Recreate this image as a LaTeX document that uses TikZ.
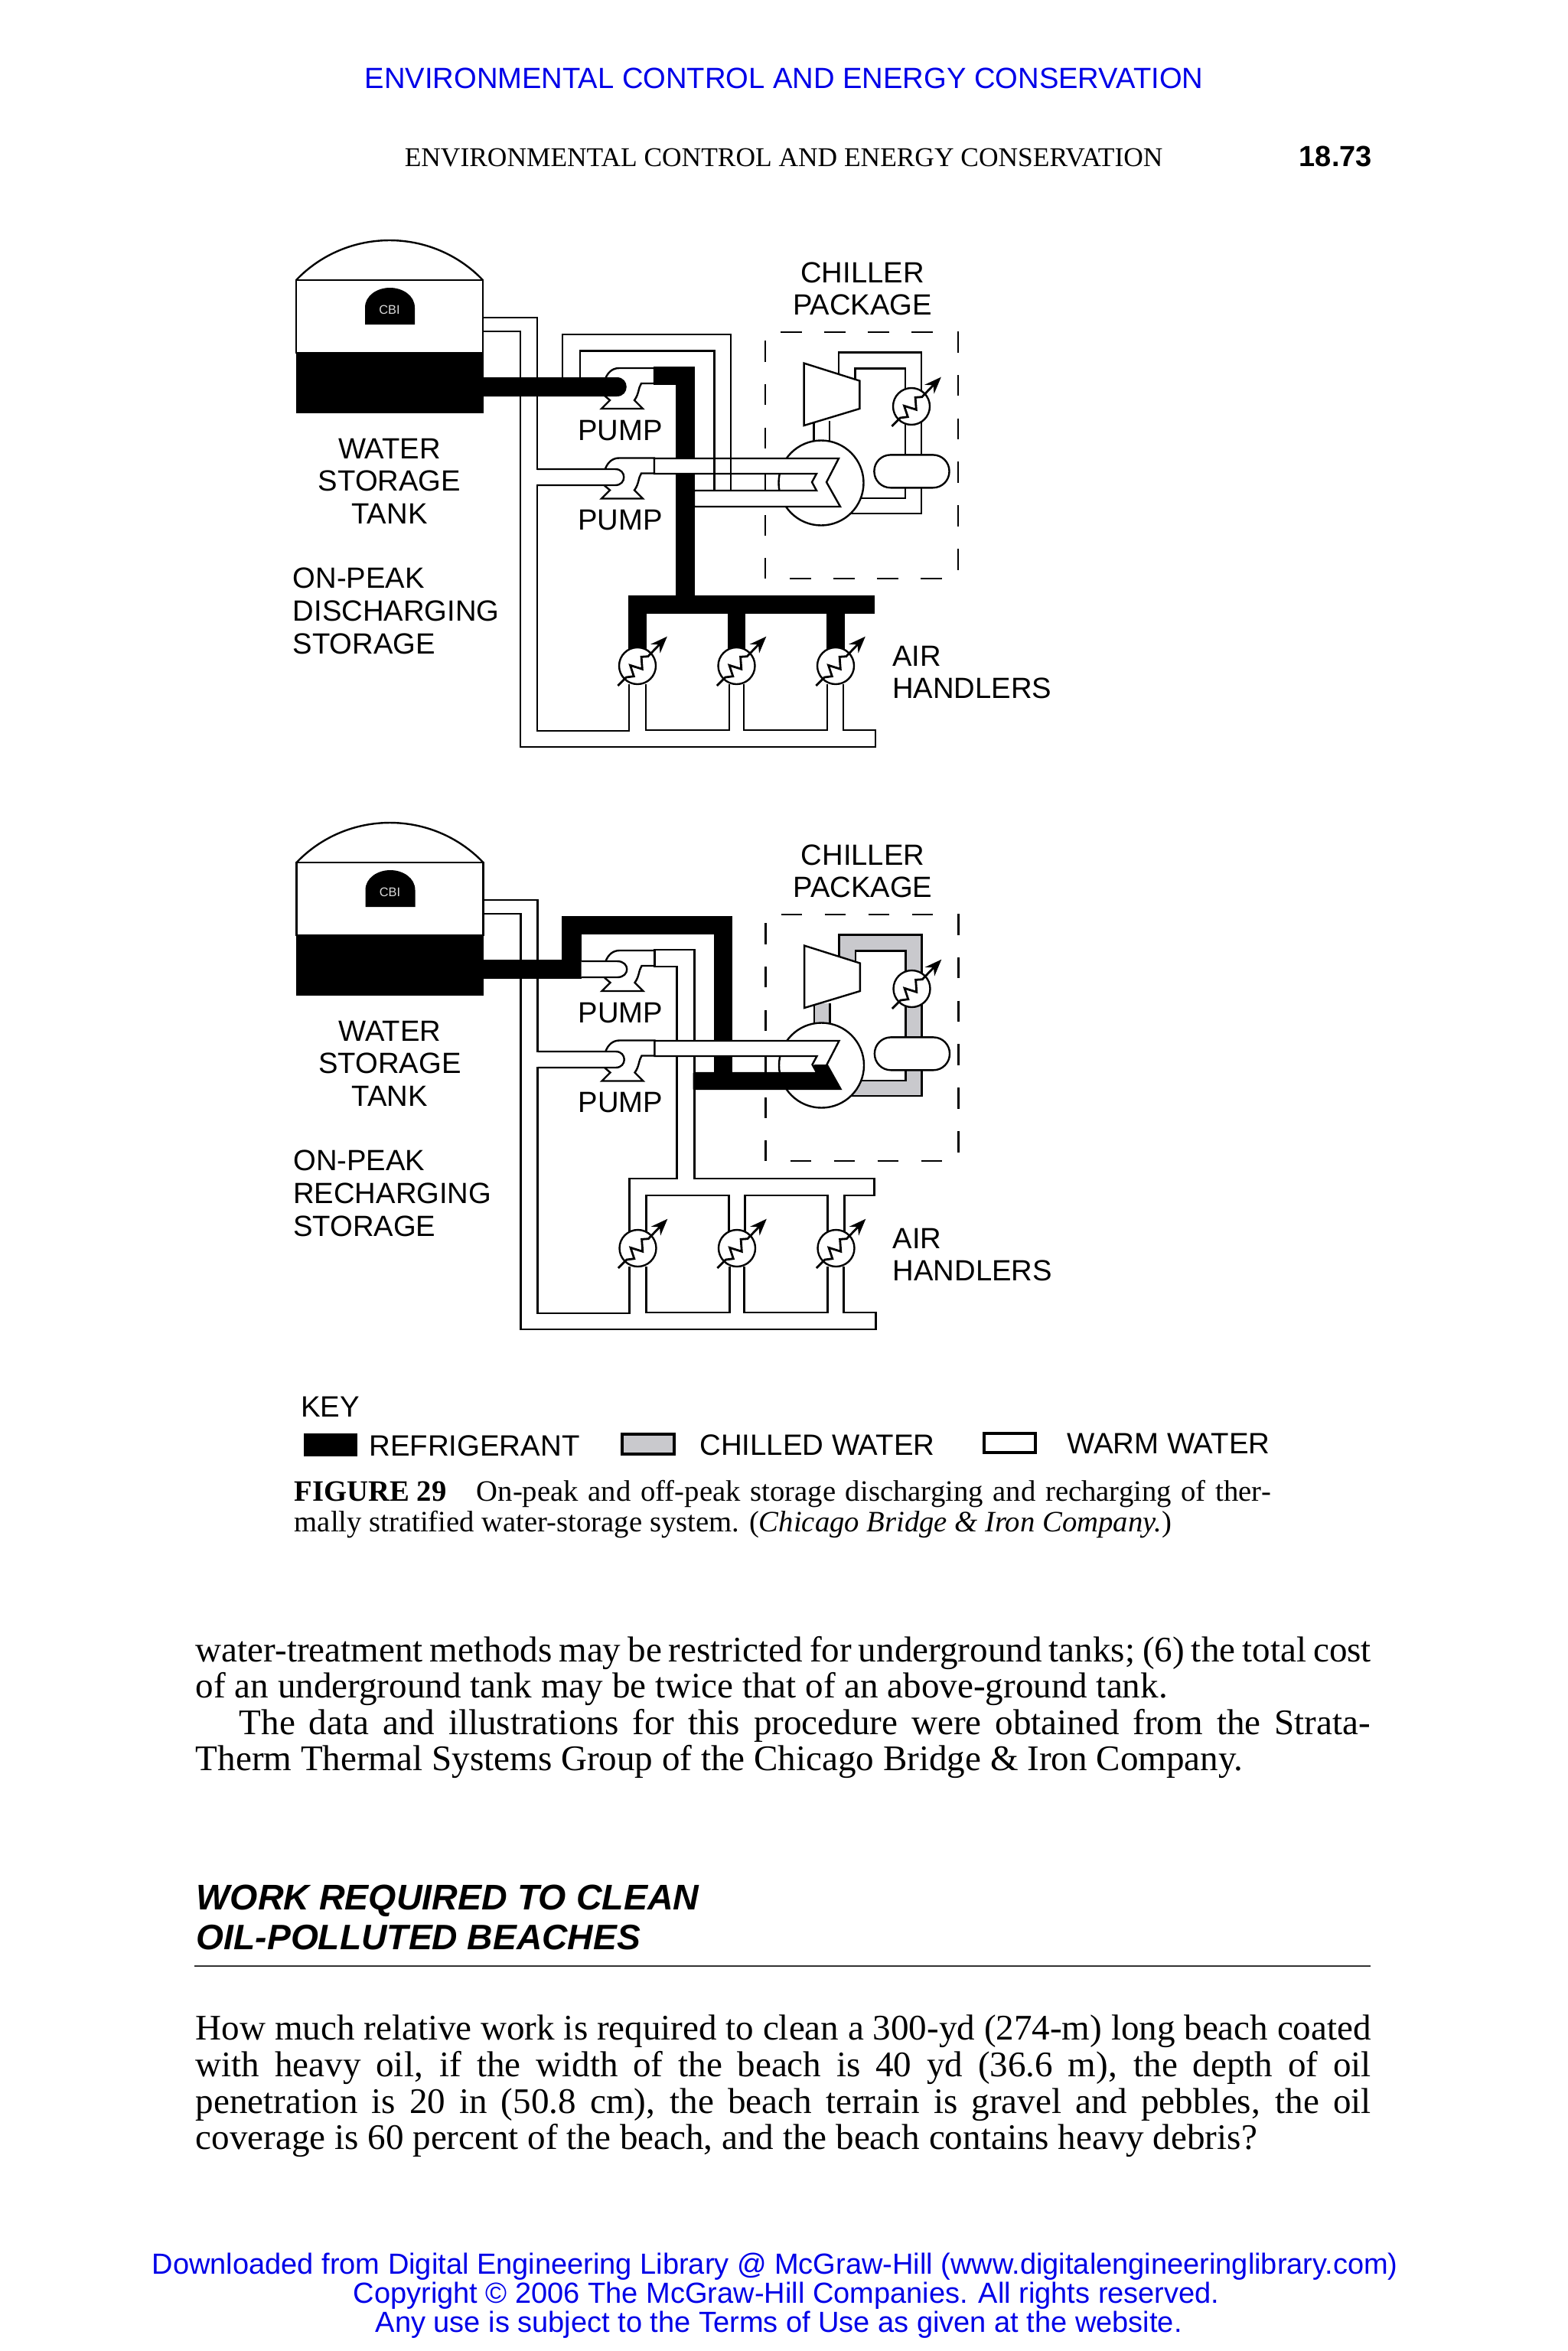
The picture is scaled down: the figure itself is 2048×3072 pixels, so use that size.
\documentclass[tikz,border=0pt]{standalone}
\usepackage{fontspec}
\setmainfont{Liberation Serif}
\setsansfont{Liberation Sans}
\usetikzlibrary{arrows.meta}
\definecolor{chilled}{HTML}{C9C9CD}
\definecolor{linkblue}{HTML}{0000E8}
\tikzset{
  pipe/.style={line width=0.6pt,line join=miter,draw=black},
  boxdash/.style={line width=0.55pt,draw=black},
  lab/.style={inner sep=0pt,font=\sffamily\fontsize{9.55}{11}\selectfont},
  keylab/.style={inner sep=0pt,font=\sffamily\fontsize{9.6}{11}\selectfont},
  bt/.style={inner sep=0pt,anchor=base west,font=\rmfamily\fontsize{11.77}{12}\selectfont},
  captext/.style={inner sep=0pt,anchor=base west,font=\rmfamily\fontsize{9.67}{11}\selectfont},
  foot/.style={inner sep=0pt,anchor=base west,text=linkblue,font=\sffamily\fontsize{9.5}{11}\selectfont},
}
% heat exchanger symbol at (x,y)
\newcommand\hexch[2]{%
  \begin{scope}[shift={(#1,#2)}]
    \draw[pipe,fill=white] (0,0) circle[radius=24];
    \draw[pipe,line width=0.7pt,-{Stealth[length=5.5pt,width=4.2pt]}]
      (-25.7,26) -- (-14.6,15) -- (-4.7,13.7) -- (-9.5,-0.7) -- (6.3,4.3) -- (5.1,-11.7) -- (13.8,-12.3) -- (38.8,-38.3);
  \end{scope}}
% pump casing, dy = vertical offset
\newcommand\pumpbody[1]{%
  \begin{scope}[shift={(0,#1)}]
    \draw[pipe,fill=white] (791,495) .. controls (794,487) and (800,481) .. (809,481) -- (855,481) -- (855,501) -- (838,501)
      .. controls (834,507) and (835,515) .. (829,523) -- (840,534) -- (786,534) -- (797,523) -- (790,517) -- cycle;
  \end{scope}}
% #1 prefix, #2 riser loop colour, #3 outer loop colour, #4 chilled colour, #5 second label, #6 extra drawing on top
\newcommand\chillersystem[6]{%
  % tank
  \draw[pipe] (387,366) .. controls (453.5,296.7) and (564.5,296.7) .. (631,366);
  \draw[pipe,fill=white] (387,366) rectangle (631,461);
  \fill[black] (386.5,461) rectangle (631.5,540);
  \fill[black] (477,424) -- (477,402) .. controls (477,386) and (493,376) .. (509.5,376) .. controls (526,376) and (542,386) .. (542,402) -- (542,424) -- cycle;
  \node[inner sep=0pt,text=white!85!black,font=\sffamily\fontsize{4.1}{5}\selectfont] (#1cbi) at (509,405) {CBI};
  % water lines from the tank
  \draw[pipe] (631,415) -- (702,415) -- (702,613) -- (810,613);
  \draw[pipe] (631,433) -- (680,433) -- (680,976) -- (1144,976) -- (1144,954) -- (1102,954) -- (1102,894);
  \draw[pipe] (810,634) -- (702,634) -- (702,955) -- (822,955) -- (822,894);
  \draw[pipe] (844,894) -- (844,954) -- (953,954) -- (953,894);
  \draw[pipe] (972,894) -- (972,954) -- (1081,954) -- (1081,894);
  % chilled water loop
  \fill[#4] (1096,500) -- (1096,460.5) -- (1204,460.5) -- (1204,671) -- (1110,671) -- (1120,651) -- (1183,651) -- (1183,481.5) -- (1117.5,481.5) -- (1117.5,510) -- cycle;
  \fill[#4] (1063,550) rectangle (1084,590);
  \draw[pipe] (1096,500) -- (1096,460.5) -- (1204,460.5) -- (1204,671) -- (1110,671);
  \draw[pipe] (1117.5,510) -- (1117.5,481.5) -- (1183,481.5) -- (1183,651) -- (1122,651);
  \draw[pipe] (1063.5,550) -- (1063.5,590) (1084,550) -- (1084,590);
  % chiller barrel, compressor, receiver, condenser
  \draw[pipe,fill=white] (1073,631) circle[radius=55.5];
  \draw[pipe,fill=white] (1050.6,474.6) -- (1123.4,497.6) -- (1123.4,534) -- (1050.6,556) -- cycle;
  \draw[pipe,fill=white,rounded corners=5.3pt] (1142.4,594.4) rectangle (1240.5,637.3);
  \hexch{1191}{531}
  % dashed package outline
  \draw[boxdash,dash pattern=on 6.9pt off 7.35pt] (1020,434) -- (1221,434);
  \draw[boxdash,dash pattern=on 6.9pt off 7.35pt] (1032,756) -- (1232,756);
  \draw[boxdash,dash pattern=on 6.9pt off 7.3pt] (1000,445) -- (1000,640);
  \draw[boxdash,dash pattern=on 6.9pt off 7.3pt] (1000,673) -- (1000,700) (1000,729) -- (1000,756);
  \draw[boxdash,dash pattern=on 6.9pt off 7.3pt] (1252,433) -- (1252,746);
  % pumps
  \pumpbody{0}
  \pumpbody{117.5}
  % riser loop and air-handler header
  \draw[pipe,fill=#2] (855,480) -- (907,480) -- (907,779) -- (1142,779) -- (1142,801) -- (1103,801) -- (1103,850) -- (1081,850) -- (1081,801) -- (973,801) -- (973,850) -- (952,850) -- (952,801) -- (844,801) -- (844,850) -- (822,850) -- (822,779) -- (884,779) -- (884,502) -- (855,502) -- cycle;
  % outer loop
  \fill[#3] (735,505) -- (735,437) -- (955,437) -- (955,645) -- (933.6,645) -- (933.6,458.5) -- (758,458.5) -- (758,505) -- cycle;
  \draw[pipe] (735,505) -- (735,437) -- (955,437) -- (955,641);
  \draw[pipe] (758,505) -- (758,458.5) -- (933.6,458.5) -- (933.6,641) -- (907,641);
  % evaporator tube
  \draw[pipe,fill=white] (855,599) -- (1096,599) -- (1080,630) -- (1098,662) -- (907,662) -- (907,641) -- (1067,641) -- (1061,630) -- (1067,619) -- (855,619) -- cycle;
  % air handlers
  \hexch{833}{870}
  \hexch{962.5}{870}
  \hexch{1092}{870}
  % second pump suction
  \draw[pipe,fill=white] (702,613) -- (804,613) .. controls (819,613) and (819,634) .. (804,634) -- (702,634);
  #6
  % labels
  \node[lab] (#1tank1) at (509,586) {WATER};
  \node[lab] (#1tank2) at (509,628) {STORAGE};
  \node[lab] (#1tank3) at (509,671) {TANK};
  \node[lab,anchor=west] (#1mode1) at (382,755) {ON-PEAK};
  \node[lab,anchor=west] (#1mode2) at (382,798) {#5};
  \node[lab,anchor=west] (#1mode3) at (382,841) {STORAGE};
  \node[lab] (#1chill1) at (1127,356) {CHILLER};
  \node[lab] (#1chill2) at (1127,398) {PACKAGE};
  \node[lab] (#1pump1) at (810.5,563) {PUMP};
  \node[lab] (#1pump2) at (810.5,680) {PUMP};
  \node[lab,anchor=west] (#1air1) at (1165.5,857) {AIR};
  \node[lab,anchor=west] (#1air2) at (1165.5,899.5) {HANDLERS};
}
\begin{document}
\begin{tikzpicture}[x=0.25pt,y=-0.25pt]
\useasboundingbox (0,0) rectangle (2048,3072);
\fill[white] (0,0) rectangle (2048,3072);
% page furniture
\node[inner sep=0pt,anchor=base west,text=linkblue,font=\sffamily\fontsize{9.54}{11}\selectfont] (topbanner) at (476,115.5) {ENVIRONMENTAL CONTROL AND ENERGY CONSERVATION};
\node[inner sep=0pt,anchor=base west,font=\rmfamily\fontsize{8.85}{11}\selectfont] (runhead) at (528,218) {ENVIRONMENTAL CONTROL AND ENERGY CONSERVATION};
\node[inner sep=0pt,anchor=base west,font=\sffamily\bfseries\fontsize{9.5}{11}\selectfont] (pageno) at (1697,218) {18.73};
% first system
\chillersystem{a}{black}{white}{white}{DISCHARGING}{%
  \draw[pipe] (933.6,599) -- (933.6,619) (955,599) -- (955,619);
  \fill[black] (631,493) -- (806,493) .. controls (823,493) and (823,518) .. (806,518) -- (631,518) -- cycle;
}
% second system
\begin{scope}[shift={(0.5,761)}]
\chillersystem{b}{white}{black}{chilled}{RECHARGING}{%
  \fill[black] (905,641) -- (1067,641) -- (1061.4,632.4) -- (1064,630) -- (1080,630) -- (1098,662.5) -- (905,662.5) -- cycle;
  \fill[black] (631,493) rectangle (759,518);
  \draw[pipe,fill=white] (759,495) -- (806,495) .. controls (823,495) and (823,516) .. (806,516) -- (759,516);
}
\end{scope}
% key
\node[keylab,anchor=west] (keytitle) at (392.5,1838) {KEY};
\fill[black] (397,1873) rectangle (467,1903);
\node[keylab,anchor=west] (keyref) at (481.5,1889) {REFRIGERANT};
\draw[black,line width=0.9pt,fill=chilled] (813,1874) rectangle (881,1900);
\node[keylab,anchor=west] (keychw) at (913.5,1888) {CHILLED WATER};
\draw[black,line width=0.8pt,fill=white] (1286,1873) rectangle (1353,1898);
\node[keylab,anchor=west] (keywarm) at (1393.5,1886) {WARM WATER};
% caption
\node[captext] (capfig) at (384,1961) {\textbf{FIGURE 29}};
\node[captext] (cap1) at (622,1961) {\makebox[259.5pt][s]{On-peak and off-peak storage discharging and recharging of ther-}};
\node[captext] (cap2) at (384,2001) {mally stratified water-storage system. (\textit{Chicago Bridge \& Iron Company.})};
% body text
\node[bt] (body1) at (255,2171) {\makebox[384pt][s]{water-treatment methods may be restricted for underground tanks; (6) the total cost}};
\node[bt] (body2) at (255,2218) {of an underground tank may be twice that of an above-ground tank.};
\node[bt] (body3) at (312,2266) {\makebox[369.5pt][s]{The data and illustrations for this procedure were obtained from the Strata-}};
\node[bt] (body4) at (255,2313) {Therm Thermal Systems Group of the Chicago Bridge \& Iron Company.};
% heading
\node[inner sep=0pt,anchor=base west,font=\sffamily\bfseries\itshape\fontsize{11.65}{13}\selectfont] (head1) at (256,2495) {WORK REQUIRED TO CLEAN};
\node[inner sep=0pt,anchor=base west,font=\sffamily\bfseries\itshape\fontsize{11.55}{13}\selectfont] (head2) at (256,2547) {OIL-POLLUTED BEACHES};
\draw[draw=black!80,line width=0.45pt] (254,2569) -- (1791,2569);
% problem text
\node[bt] (prob1) at (255,2665) {\makebox[384pt][s]{How much relative work is required to clean a 300-yd (274-m) long beach coated}};
\node[bt] (prob2) at (255,2713) {\makebox[384pt][s]{with heavy oil, if the width of the beach is 40 yd (36.6 m), the depth of oil}};
\node[bt] (prob3) at (255,2761) {\makebox[384pt][s]{penetration is 20 in (50.8 cm), the beach terrain is gravel and pebbles, the oil}};
\node[bt] (prob4) at (255,2808) {coverage is 60 percent of the beach, and the beach contains heavy debris?};
% footer
\node[foot] (foot1) at (198,2971) {Downloaded from Digital Engineering Library @ McGraw-Hill (www.digitalengineeringlibrary.com)};
\node[foot] (foot2) at (461,3009) {Copyright © 2006 The McGraw-Hill Companies. All rights reserved.};
\node[foot] (foot3) at (490,3047) {Any use is subject to the Terms of Use as given at the website.};
\end{tikzpicture}
\end{document}
